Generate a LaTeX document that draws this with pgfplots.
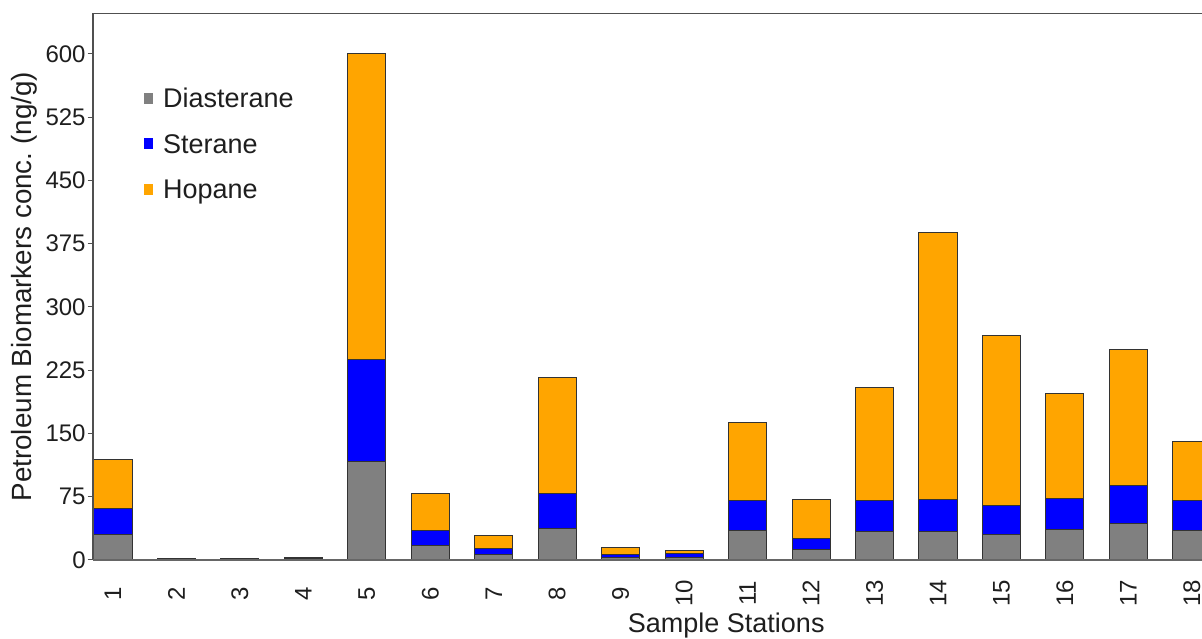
\documentclass[border=0pt]{standalone}
\usepackage{pgfplots}
\pgfplotsset{compat=1.18}
\usepackage{pgfplotstable}
\usepackage{fontspec}
\setmainfont{Liberation Sans}
\definecolor{dia}{HTML}{808080}
\definecolor{ste}{HTML}{0000FF}
\definecolor{hop}{HTML}{FFA500}
\definecolor{txt}{HTML}{1E1E1E}
\definecolor{axln}{HTML}{505050}

\pgfplotstableread{
st D S H
1 30 31.3 57.3
2 0.5 0.4 0.6
3 0.5 0.4 0.6
4 1 0.8 1.2
5 116.6 121.4 362
6 16.6 18.2 43.5
7 6.7 7.1 14.7
8 37.5 41.5 137.6
9 2.8 3.9 7.9
10 2.5 5.4 3.6
11 34.8 35.6 92.9
12 11.9 13.0 46.3
13 33.6 36.4 134.4
14 33.6 37.6 317.4
15 30 34.4 201.2
16 35.6 37.9 124.5
17 42.7 45.4 160.9
18 34.8 36 70
}\data

\begin{document}
\begin{tikzpicture}
\begin{axis}[
  scale only axis, width=554.5pt, height=273.25pt,
  xmin=0.685, xmax=18.16, ymin=0, ymax=648,
  ybar stacked, bar width=0.6,
  axis line style={draw=none},
  xtick={1,...,18},
  xtick style={draw=none},
  x tick label style={yshift=-14pt, rotate=90, anchor=center, font=\fontsize{12}{14}\selectfont, text=txt},
  ytick={0,75,...,600},
  ytick pos=left,
  tick align=outside, major tick length=2.7pt,
  ytick style={draw=axln, line width=0.5pt},
  y tick label style={font=\fontsize{12}{14}\selectfont, text=txt, inner sep=0.8pt},
  /pgf/number format/assume math mode=true,
  xlabel={Sample Stations},
  ylabel={Petroleum Biomarkers conc.\ (ng/g)},
  xlabel style={at={(axis description cs:0.571,-0.119)}, anchor=center, font=\fontsize{13.5}{16}\selectfont, text=txt},
  ylabel style={at={(axis description cs:-0.062,0.5)}, anchor=center, font=\fontsize{13.9}{16}\selectfont, text=txt},
  every axis plot/.append style={draw=black!80, line width=0.5pt},
  legend image code/.code={\fill[#1,draw=none] (0pt,2.1pt) rectangle (4.35pt,7.6pt);},
  legend cell align=left,
  legend style={draw=none, fill=none, inner sep=0pt, outer sep=0pt,
    at={(axis description cs:0.046,0.863)}, anchor=north west,
    row sep=13.05pt, column sep=5.2pt,
    font=\fontsize{13.5}{16}\selectfont, text=txt,
    nodes={inner sep=0pt, text height=9.7pt, text depth=0pt, anchor=base west}},
]
\addplot[fill=dia] table[x=st, y=D] {\data};
\addplot[fill=ste] table[x=st, y=S] {\data};
\addplot[fill=hop] table[x=st, y=H] {\data};
\legend{Diasterane, Sterane, Hopane}
\coordinate (bl) at (rel axis cs:0,0);
\coordinate (tr) at (rel axis cs:1,1);
\end{axis}
\draw[axln, line width=0.8pt] (bl |- tr) -- (tr);
\draw[axln, line width=0.8pt] (bl) -- (bl |- tr);
\draw[black!60, line width=0.7pt] (bl) -- (bl -| tr);
\pgfresetboundingbox
\path ([xshift=-46.5pt, yshift=-39.5pt]bl) rectangle ([yshift=6.75pt]tr);
\end{tikzpicture}
\end{document}
